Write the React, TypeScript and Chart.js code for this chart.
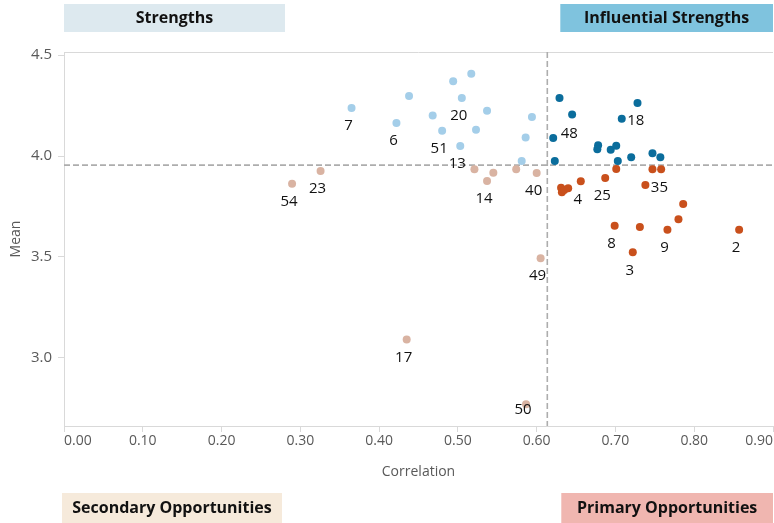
import React, { useEffect, useRef } from "react";
import { Chart, registerables } from "chart.js";

Chart.register(...registerables);

// ---- Data ----
const strengthsX = [0.365, 0.422, 0.438, 0.468, 0.48, 0.494, 0.517, 0.505, 0.537, 0.523, 0.503, 0.594, 0.586, 0.581];
const strengthsY = [4.238, 4.163, 4.297, 4.201, 4.125, 4.37, 4.407, 4.287, 4.224, 4.13, 4.05, 4.193, 4.091, 3.975];
const strengthsLabels = ["7", "6", null, null, "51", null, null, "20", null, null, "13", null, null, null];

const influentialX = [0.629, 0.645, 0.621, 0.623, 0.678, 0.677, 0.694, 0.701, 0.708, 0.728, 0.703, 0.72, 0.747, 0.757];
const influentialY = [4.287, 4.205, 4.089, 3.975, 4.053, 4.033, 4.031, 4.051, 4.185, 4.262, 3.975, 3.994, 4.014, 3.994];
const influentialLabels = [null, null, "48", null, null, null, null, null, "18", null, null, null, null, null];

const primaryX = [0.701, 0.747, 0.758, 0.631, 0.632, 0.635, 0.64, 0.656, 0.687, 0.738, 0.786, 0.78, 0.766, 0.731, 0.699, 0.722, 0.857];
const primaryY = [3.936, 3.934, 3.934, 3.843, 3.82, 3.832, 3.84, 3.875, 3.891, 3.856, 3.762, 3.687, 3.635, 3.649, 3.655, 3.523, 3.635];
const primaryLabels = [null, null, null, null, null, null, null, "4", "25", "35", null, null, "9", null, "8", "3", "2"];

const secondaryX = [0.2895, 0.3257, 0.521, 0.537, 0.545, 0.574, 0.6, 0.605, 0.435, 0.5865];
const secondaryY = [3.863, 3.926, 3.934, 3.876, 3.917, 3.934, 3.916, 3.494, 3.091, 2.771];
const secondaryLabels = ["54", "23", null, "14", null, null, "40", "49", "17", "50"];

const xThreshold = 0.6135;
const yThreshold = 3.955;

const xTicks = [0, 0.1, 0.2, 0.3, 0.4, 0.5, 0.6, 0.7, 0.8, 0.9];
const yTicks = [3.0, 3.5, 4.0, 4.5];

const quadrantTitles = ["Strengths", "Influential Strengths", "Secondary Opportunities", "Primary Opportunities"];

// ---- Styles ----
const COLORS = {
  strengths: "#a4cee9",
  influential: "#0b6d9c",
  primary: "#c9501c",
  secondary: "#d9b3a2",
};
const BOX_COLORS = ["#dde9ef", "#7fc3de", "#f6eadb", "#f0b6b0"];
const FONT = "'Open Sans', 'Noto Sans', sans-serif";

// label placement overrides: [dx, dy]
const labelOffsets: Record<string, [number, number]> = {
  "48": [16, -4],
  "18": [14, 2],
  "35": [14, 3],
  "50": [-3, 6],
};

function toPoints(xs: number[], ys: number[]) {
  return xs.map((x, i) => ({ x, y: ys[i] }));
}

const quadrantPlugin = {
  id: "quadrants",
  beforeDatasetsDraw(chart: any) {
    const { ctx, chartArea, scales } = chart;
    const xs = scales.x;
    const ys = scales.y;
    ctx.save();
    ctx.strokeStyle = "#d9d9d9";
    ctx.lineWidth = 1;
    ctx.beginPath();
    ctx.moveTo(chartArea.left, chartArea.top + 0.5);
    ctx.lineTo(chartArea.right, chartArea.top + 0.5);
    ctx.stroke();
    ctx.strokeStyle = "#adadad";
    ctx.lineWidth = 1.6;
    ctx.setLineDash([6, 3]);
    const px = xs.getPixelForValue(xThreshold);
    const py = ys.getPixelForValue(yThreshold);
    ctx.beginPath();
    ctx.moveTo(px, chartArea.top);
    ctx.lineTo(px, chartArea.bottom);
    ctx.moveTo(chartArea.left, py);
    ctx.lineTo(chartArea.right, py);
    ctx.stroke();
    ctx.restore();
  },
  afterDraw(chart: any) {
    const { ctx, chartArea, scales, height } = chart;
    const px = scales.x.getPixelForValue(xThreshold);
    const boxW = 221;
    const topY = 4;
    const boxH = 28;
    const botY = height - 30;
    const boxes = [
      { x: chartArea.left, y: topY, w: boxW, h: boxH },
      { x: px + 13, y: topY, w: chartArea.right - (px + 13), h: boxH },
      { x: chartArea.left - 2, y: botY, w: boxW - 1, h: 30 },
      { x: px + 14, y: botY, w: chartArea.right - (px + 14), h: 30 },
    ];
    ctx.save();
    boxes.forEach((b, i) => {
      ctx.fillStyle = BOX_COLORS[i];
      ctx.fillRect(b.x, b.y, b.w, b.h);
      ctx.fillStyle = "#111111";
      ctx.font = `bold 16px ${FONT}`;
      ctx.textAlign = "center";
      ctx.textBaseline = "middle";
      ctx.fillText(quadrantTitles[i], b.x + b.w / 2, b.y + b.h / 2);
    });
    ctx.restore();
  },
};

const labelPlugin = {
  id: "pointLabels",
  afterDatasetsDraw(chart: any) {
    const { ctx } = chart;
    ctx.save();
    ctx.font = `15px ${FONT}`;
    ctx.fillStyle = "#111111";
    ctx.textAlign = "center";
    ctx.textBaseline = "middle";
    chart.data.datasets.forEach((ds: any, di: number) => {
      const meta = chart.getDatasetMeta(di);
      meta.data.forEach((el: any, i: number) => {
        const lab = ds.pointLabels[i];
        if (!lab) return;
        const off = labelOffsets[lab] || [-3, 18];
        ctx.fillText(lab, el.x + off[0], el.y + off[1]);
      });
    });
    ctx.restore();
  },
};

export default function App() {
  const ref = useRef<HTMLCanvasElement | null>(null);
  useEffect(() => {
    if (!ref.current) return;
    const mk = (data: any[], color: string, labels: (string | null)[]) => ({
      data,
      backgroundColor: color,
      borderWidth: 0,
      pointRadius: 4,
      pointHoverRadius: 4,
      pointLabels: labels,
    });
    const chart = new Chart(ref.current, {
      type: "scatter",
      data: {
        datasets: [
          mk(toPoints(secondaryX, secondaryY), COLORS.secondary, secondaryLabels),
          mk(toPoints(strengthsX, strengthsY), COLORS.strengths, strengthsLabels),
          mk(toPoints(primaryX, primaryY), COLORS.primary, primaryLabels),
          mk(toPoints(influentialX, influentialY), COLORS.influential, influentialLabels),
        ] as any,
      },
      options: {
        animation: false,
        responsive: false,
        layout: { autoPadding: false, padding: { top: 52, right: 0, bottom: 0, left: 0 } },
        plugins: { legend: { display: false }, tooltip: { enabled: false } },
        scales: {
          x: {
            type: "linear",
            min: 0,
            max: 0.9,
            afterFit: (s: any) => { s.height = 97; },
            afterBuildTicks: (s: any) => { s.ticks = xTicks.map((v) => ({ value: v })); },
            grid: { drawOnChartArea: false, drawTicks: true, tickLength: 6, color: "#d9d9d9" },
            border: { display: true, color: "#d9d9d9", width: 1 },
            ticks: {
              align: "inner",
              padding: 1,
              color: "#595959",
              font: { family: FONT, size: 14 },
              callback: (v: any) => Number(v).toFixed(2),
            },
            title: {
              display: true,
              text: "Correlation",
              color: "#595959",
              font: { family: FONT, size: 14 },
              padding: { top: 0, bottom: 43 },
            },
          },
          y: {
            type: "linear",
            min: 2.663,
            max: 4.515,
            afterFit: (s: any) => { s.width = 64; },
            afterBuildTicks: (s: any) => { s.ticks = yTicks.map((v) => ({ value: v })); },
            grid: { drawOnChartArea: false, drawTicks: true, tickLength: 6, color: "#d9d9d9" },
            border: { display: true, color: "#d9d9d9", width: 1 },
            ticks: {
              padding: 6,
              color: "#595959",
              font: { family: FONT, size: 15 },
              callback: (v: any) => Number(v).toFixed(1),
            },
            title: {
              display: true,
              text: "Mean",
              color: "#595959",
              font: { family: FONT, size: 14 },
              padding: { top: 8, bottom: 0 },
            },
          },
        },
      },
      plugins: [quadrantPlugin, labelPlugin],
    } as any);
    return () => chart.destroy();
  }, []);
  return (
    <div style={{ position: "absolute", left: 0, top: 0, width: 774, height: 523 }}>
      <canvas ref={ref} width={774} height={523} style={{ display: "block" }} />
    </div>
  );
}
